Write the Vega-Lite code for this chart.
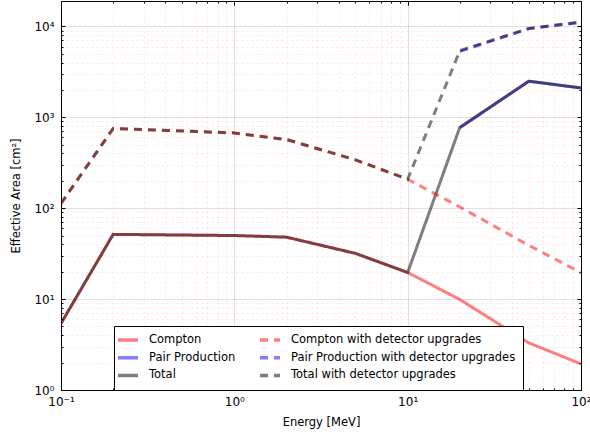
{
  "$schema": "https://vega.github.io/schema/vega-lite/v6.json",
  "width": 520,
  "height": 389,
  "autosize": {"type": "none"},
  "padding": {"left": 61, "top": 1, "right": 9, "bottom": 45},
  "config": {
    "font": "DejaVu Sans",
    "view": {"stroke": null},
    "axis": {
      "labelFont": "DejaVu Sans",
      "labelFontSize": 12,
      "labelColor": "black",
      "titleFont": "DejaVu Sans",
      "titleFontSize": 11.5,
      "titleFontWeight": "normal",
      "titleColor": "black",
      "tickColor": "black",
      "domainColor": "black",
      "domainWidth": 1
    }
  },
  "data": {
    "values": [
      {"energy": 0.1, "area": 5.4, "series": "Compton"},
      {"energy": 0.2, "area": 51.5, "series": "Compton"},
      {"energy": 1, "area": 50, "series": "Compton"},
      {"energy": 2, "area": 48, "series": "Compton"},
      {"energy": 5, "area": 31.8, "series": "Compton"},
      {"energy": 10, "area": 19.6, "series": "Compton"},
      {"energy": 20, "area": 9.9, "series": "Compton"},
      {"energy": 50, "area": 3.3, "series": "Compton"},
      {"energy": 100, "area": 1.93, "series": "Compton"},
      {"energy": 20, "area": 765, "series": "Pair Production"},
      {"energy": 50, "area": 2490, "series": "Pair Production"},
      {"energy": 100, "area": 2100, "series": "Pair Production"},
      {"energy": 0.1, "area": 5.4, "series": "Total"},
      {"energy": 0.2, "area": 51.5, "series": "Total"},
      {"energy": 1, "area": 50, "series": "Total"},
      {"energy": 2, "area": 48, "series": "Total"},
      {"energy": 5, "area": 31.8, "series": "Total"},
      {"energy": 10, "area": 19.6, "series": "Total"},
      {"energy": 20, "area": 775, "series": "Total"},
      {"energy": 50, "area": 2493, "series": "Total"},
      {"energy": 100, "area": 2102, "series": "Total"},
      {"energy": 0.1, "area": 113, "series": "Compton with detector upgrades"},
      {"energy": 0.2, "area": 752, "series": "Compton with detector upgrades"},
      {"energy": 1, "area": 672, "series": "Compton with detector upgrades"},
      {"energy": 2, "area": 569, "series": "Compton with detector upgrades"},
      {"energy": 5, "area": 340, "series": "Compton with detector upgrades"},
      {"energy": 10, "area": 208, "series": "Compton with detector upgrades"},
      {"energy": 20, "area": 103, "series": "Compton with detector upgrades"},
      {"energy": 50, "area": 39, "series": "Compton with detector upgrades"},
      {"energy": 100, "area": 19.5, "series": "Compton with detector upgrades"},
      {"energy": 20, "area": 5300, "series": "Pair Production with detector upgrades"},
      {"energy": 50, "area": 9440, "series": "Pair Production with detector upgrades"},
      {"energy": 100, "area": 11100, "series": "Pair Production with detector upgrades"},
      {"energy": 0.1, "area": 113, "series": "Total with detector upgrades"},
      {"energy": 0.2, "area": 752, "series": "Total with detector upgrades"},
      {"energy": 1, "area": 672, "series": "Total with detector upgrades"},
      {"energy": 2, "area": 569, "series": "Total with detector upgrades"},
      {"energy": 5, "area": 340, "series": "Total with detector upgrades"},
      {"energy": 10, "area": 208, "series": "Total with detector upgrades"},
      {"energy": 20, "area": 5403, "series": "Total with detector upgrades"},
      {"energy": 50, "area": 9479, "series": "Total with detector upgrades"},
      {"energy": 100, "area": 11120, "series": "Total with detector upgrades"}
    ]
  },
  "resolve": {"axis": {"x": "independent", "y": "independent"}},
  "layer": [
    {
      "mark": {"type": "line", "opacity": 0.5, "strokeWidth": 3, "clip": true},
      "encoding": {
        "x": {
          "field": "energy", "type": "quantitative",
          "scale": {"type": "log", "domain": [0.1, 100], "nice": false},
          "axis": {
            "orient": "bottom",
            "values": [0.1, 1, 10, 100],
            "labelExpr": "datum.value < 0.5 ? '10⁻¹' : datum.value < 5 ? '10⁰' : datum.value < 50 ? '10¹' : '10²'",
            "title": "Energy [MeV]",
            "grid": true, "gridColor": "black", "gridOpacity": 0.12,
            "tickSize": -4, "labelPadding": 10, "titlePadding": 9,
            "domain": true, "labelFlush": false, "labelOverlap": false
          }
        },
        "y": {
          "field": "area", "type": "quantitative",
          "scale": {"type": "log", "domain": [1, 19000], "nice": false},
          "axis": {
            "orient": "left",
            "values": [1, 10, 100, 1000, 10000],
            "labelExpr": "datum.value < 5 ? '10⁰' : datum.value < 50 ? '10¹' : datum.value < 500 ? '10²' : datum.value < 5000 ? '10³' : '10⁴'",
            "title": "Effective Area [cm²]",
            "grid": true, "gridColor": "black", "gridOpacity": 0.12,
            "tickSize": -4, "labelPadding": 11, "titlePadding": 12,
            "domain": true, "labelFlush": false, "labelOverlap": false
          }
        },
        "color": {
          "field": "series", "type": "nominal",
          "scale": {
            "domain": ["Compton", "Pair Production", "Total", "Compton with detector upgrades", "Pair Production with detector upgrades", "Total with detector upgrades"],
            "range": ["#ff0000", "#0000ff", "#000000", "#ff0000", "#0000ff", "#000000"]
          },
          "legend": {
            "orient": "none", "legendX": 53, "legendY": 325, "columns": 2, "title": null,
            "strokeColor": "black", "fillColor": "white", "padding": 7, "cornerRadius": 0,
            "labelFont": "DejaVu Sans", "labelFontSize": 11.5, "labelColor": "black", "labelLimit": 400,
            "symbolType": "M-2,0H2", "symbolSize": 100, "symbolStrokeWidth": 3.5, "symbolOpacity": 0.5,
            "rowPadding": 3.7, "columnPadding": 17, "labelOffset": 14
          }
        },
        "strokeDash": {
          "field": "series", "type": "nominal",
          "scale": {
            "domain": ["Compton", "Pair Production", "Total", "Compton with detector upgrades", "Pair Production with detector upgrades", "Total with detector upgrades"],
            "range": [[1, 0], [1, 0], [1, 0], [8, 6], [8, 6], [8, 6]]
          },
          "legend": {
            "orient": "none", "legendX": 53, "legendY": 325, "columns": 2, "title": null,
            "strokeColor": "black", "fillColor": "white", "padding": 7, "cornerRadius": 0,
            "labelFont": "DejaVu Sans", "labelFontSize": 11.5, "labelColor": "black", "labelLimit": 400,
            "symbolType": "M-2,0H2", "symbolSize": 100, "symbolStrokeWidth": 3.5, "symbolOpacity": 0.5,
            "rowPadding": 3.7, "columnPadding": 17, "labelOffset": 14
          }
        }
      }
    },
    {
      "mark": {"type": "point", "opacity": 0},
      "encoding": {
        "x": {
          "field": "energy", "type": "quantitative",
          "axis": {
            "orient": "bottom",
            "values": [0.2, 0.3, 0.4, 0.5, 0.6, 0.7, 0.8, 0.9, 2, 3, 4, 5, 6, 7, 8, 9, 20, 30, 40, 50, 60, 70, 80, 90],
            "labels": false, "title": null, "domain": false,
            "grid": true, "gridColor": "#ff0000", "gridOpacity": 0.1, "gridDash": [2, 3],
            "tickSize": -2
          }
        },
        "y": {
          "field": "area", "type": "quantitative",
          "axis": {
            "orient": "left",
            "values": [2, 3, 4, 5, 6, 7, 8, 9, 20, 30, 40, 50, 60, 70, 80, 90, 200, 300, 400, 500, 600, 700, 800, 900, 2000, 3000, 4000, 5000, 6000, 7000, 8000, 9000],
            "labels": false, "title": null, "domain": false,
            "grid": true, "gridColor": "#ff0000", "gridOpacity": 0.1, "gridDash": [2, 3],
            "tickSize": -2
          }
        }
      }
    },
    {
      "mark": {"type": "point", "opacity": 0},
      "encoding": {
        "x": {
          "field": "energy", "type": "quantitative",
          "axis": {
            "orient": "top", "values": [0.1, 1, 10, 100],
            "labels": false, "title": null, "domain": true, "grid": false, "tickSize": -4
          }
        },
        "y": {
          "field": "area", "type": "quantitative",
          "axis": {
            "orient": "right", "values": [1, 10, 100, 1000, 10000],
            "labels": false, "title": null, "domain": true, "grid": false, "tickSize": -4
          }
        }
      }
    },
    {
      "mark": {"type": "point", "opacity": 0},
      "encoding": {
        "x": {
          "field": "energy", "type": "quantitative",
          "axis": {
            "orient": "top",
            "values": [0.2, 0.3, 0.4, 0.5, 0.6, 0.7, 0.8, 0.9, 2, 3, 4, 5, 6, 7, 8, 9, 20, 30, 40, 50, 60, 70, 80, 90],
            "labels": false, "title": null, "domain": false, "grid": false, "tickSize": -2
          }
        },
        "y": {
          "field": "area", "type": "quantitative",
          "axis": {
            "orient": "right",
            "values": [2, 3, 4, 5, 6, 7, 8, 9, 20, 30, 40, 50, 60, 70, 80, 90, 200, 300, 400, 500, 600, 700, 800, 900, 2000, 3000, 4000, 5000, 6000, 7000, 8000, 9000],
            "labels": false, "title": null, "domain": false, "grid": false, "tickSize": -2
          }
        }
      }
    }
  ]
}
